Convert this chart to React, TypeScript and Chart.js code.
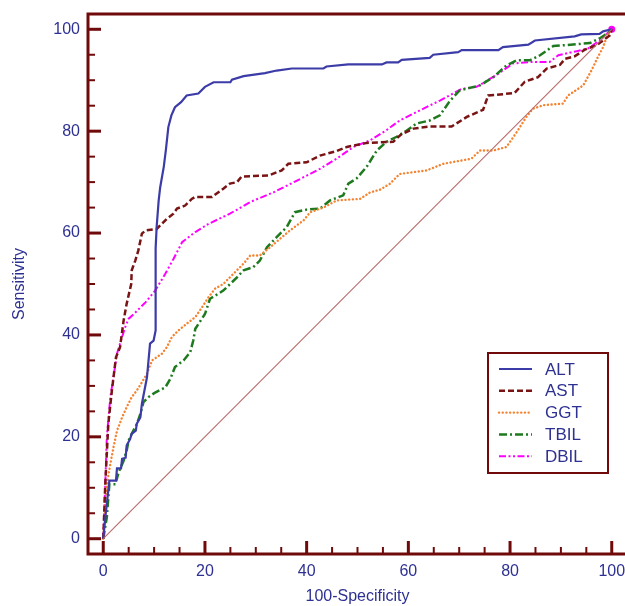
import React, { useEffect, useRef } from 'react';
import { Chart, registerables } from 'chart.js';

Chart.register(...registerables);

const seriesNames = ['ALT', 'AST', 'GGT', 'TBIL', 'DBIL'];

const altX = [0, 0.5, 1.2, 2.5, 2.7, 3.5, 3.7, 4.4, 4.6, 5.3, 5.6, 6.4, 6.6, 7.3, 7.6, 8.1, 8.6, 9.2, 9.9, 10.3, 10.3, 10.5, 10.9, 11.2, 11.9, 12.3, 12.8, 13.4, 14.1, 15.3, 16.4, 18.7, 20, 21.7, 25, 25.3, 27.6, 31.8, 34.1, 37.1, 43.3, 43.9, 48.2, 54.8, 55.7, 58, 58.7, 64.2, 64.9, 69.8, 70.5, 77.7, 78.6, 83.6, 84.9, 92.7, 94, 97.6, 98.3, 100];
const altY = [0, 5, 11.4, 11.4, 13.8, 13.8, 15.7, 15.9, 18.3, 19.6, 20.6, 21.2, 22.6, 23.8, 26.5, 29.1, 31.7, 38.3, 38.9, 40.9, 57, 61.2, 66.4, 69, 73, 76.2, 80.8, 83.1, 84.7, 85.7, 87, 87.4, 88.7, 89.6, 89.6, 90.1, 90.8, 91.4, 91.9, 92.3, 92.3, 92.7, 93.1, 93.1, 93.5, 93.5, 94, 94.4, 95, 95.5, 95.9, 95.9, 96.5, 97, 97.8, 98.6, 99, 99.1, 99.6, 100];

const astX = [0, 0.4, 1, 1.7, 2.5, 3.3, 4, 4.6, 5.5, 5.6, 6.3, 6.9, 7.6, 8.3, 10.5, 11.5, 12.5, 13.8, 14.5, 16.1, 17.4, 18.1, 21.4, 23.6, 24.9, 26.3, 27.2, 32.5, 35.1, 36.4, 40, 42.6, 45.9, 47.9, 51.8, 57, 58.5, 61, 64.2, 68.5, 71.5, 74.7, 75.7, 78, 80.9, 82.9, 85.5, 87.2, 89.8, 90.8, 92.7, 94.7, 97, 98.3, 99.6, 100];
const astY = [0, 10.8, 22.6, 29.1, 35.6, 37.6, 42.8, 46.1, 50, 52.7, 54.6, 56.6, 59.9, 60.5, 60.8, 61.8, 62.8, 63.8, 64.8, 65.4, 66.7, 67.1, 67.1, 68.7, 69.7, 70, 71.1, 71.3, 72.3, 73.6, 73.9, 75.2, 76.1, 76.9, 77.7, 77.9, 79.3, 80.5, 80.9, 80.9, 82.8, 84.2, 87, 87.2, 87.5, 89.7, 90.6, 92.3, 93, 94.2, 94.7, 96, 96.9, 97.8, 98.8, 100];

const ggtX = [0, 0.7, 1.4, 2, 2.7, 3.7, 4.6, 5.6, 6.6, 7.6, 8.6, 9.6, 11.5, 12.5, 13.5, 14.8, 16.4, 18.1, 19.4, 20.7, 22, 23.6, 25.6, 27.6, 28.9, 30.8, 32.8, 34.8, 36.7, 39.4, 40.7, 43.3, 45.9, 50.5, 52.5, 54.4, 56.4, 58.3, 63.6, 66.9, 72.4, 74.1, 76.7, 79.3, 81.3, 83.2, 84.5, 86.5, 90.4, 91.4, 94.4, 96, 97.3, 98.3, 98.9, 100];
const ggtY = [0, 10.7, 14.7, 17.9, 21.2, 23.8, 25.8, 27.8, 29.1, 30.7, 32.4, 35, 36.3, 37.6, 39.6, 40.9, 42.2, 43.5, 45.4, 47.4, 49.1, 50, 52, 54, 55.6, 55.6, 57.2, 58.9, 60.5, 62.5, 64.1, 65, 66.4, 66.7, 68, 68.5, 69.7, 71.6, 72.3, 73.6, 74.6, 76.2, 76.2, 76.9, 79.8, 82.8, 84.4, 85.1, 85.4, 87, 89, 91.9, 94.6, 96.5, 98.2, 100];

const tbilX = [0, 0.7, 1.2, 2.4, 3, 4, 4.6, 5, 5.6, 6.6, 7.3, 7.9, 8.9, 10.2, 12.2, 13.2, 14.1, 15.8, 17.1, 17.7, 18.1, 20, 21, 23.6, 26.3, 27.6, 29.5, 30.8, 32.2, 34.1, 36.1, 37.7, 40, 42.6, 44.6, 47.2, 48.2, 49.8, 51.8, 53.8, 55.7, 57.7, 59.5, 61.6, 64.2, 66.2, 68.2, 70.1, 74.1, 76.7, 79.3, 81.3, 83.9, 85.9, 88.5, 92.4, 95.7, 97.6, 99.6, 100];
const tbilY = [0, 4.2, 10.7, 10.7, 13, 15.3, 17.3, 19.3, 20.6, 22.5, 24.5, 26.8, 27.8, 28.7, 29.7, 31.4, 33.7, 35, 36.6, 38.9, 41.2, 44.1, 47.1, 48.7, 51.3, 52.7, 53.3, 54.6, 57.2, 59.2, 61.2, 64.1, 64.6, 64.8, 66.4, 67.4, 69.7, 70.7, 73, 76.2, 77.9, 78.9, 80, 81.5, 82.1, 83.1, 86, 88, 89, 90.6, 92.9, 93.9, 93.9, 94.9, 96.7, 97, 97.3, 98.2, 99.5, 100];

const dbilX = [0, 0.4, 0.7, 1.4, 2, 2.7, 3.3, 4.3, 5, 6, 8.3, 10.2, 12.2, 13.8, 15.5, 18.1, 20.7, 24.9, 28.9, 33.5, 38.1, 42.6, 45.9, 49.2, 52.5, 55.7, 58.3, 62.3, 66.2, 70.5, 73.4, 77.3, 80.6, 84.5, 87.8, 89.5, 93.1, 95.3, 97.6, 100];
const dbilY = [0, 10.8, 19.9, 27.8, 31.7, 36.3, 38.3, 41.5, 43.2, 44.1, 46.4, 48.7, 52, 54.9, 58.2, 60.2, 61.8, 63.8, 66.1, 68, 70.3, 72.6, 74.6, 76.9, 78.2, 80.2, 82.1, 84.1, 86, 88.3, 88.7, 91, 93.3, 93.6, 93.6, 94.9, 95.7, 96.2, 97.8, 100];

const diagX = [0, 100];
const diagY = [0, 100];

const tickValues = [0, 5, 10, 15, 20, 25, 30, 35, 40, 45, 50, 55, 60, 65, 70, 75, 80, 85, 90, 95, 100];

const AXIS = '#700a0a';
const TEXT = '#2e3192';
const FONT = "'Liberation Sans', Arial, sans-serif";

const pts = (xs: number[], ys: number[]) => xs.map((x, i) => ({ x, y: ys[i] }));

const styles = [
  { color: '#3c3ca8', width: 2.2, dash: [] as number[], cap: 'butt' },
  { color: '#7a1414', width: 2.5, dash: [6, 3], cap: 'butt' },
  { color: '#f5822e', width: 2.4, dash: [0.1, 3.6], cap: 'round' },
  { color: '#1e7a1e', width: 2.5, dash: [8, 3, 2, 3], cap: 'butt' },
  { color: '#ff00ff', width: 2, dash: [7, 2.5, 2, 2.5, 2, 2.5], cap: 'butt' },
];

const framePlugin = {
  id: 'frameTicks',
  afterDraw(chart: any) {
    const { ctx, chartArea: a, scales, width } = chart;
    ctx.save();
    ctx.strokeStyle = AXIS;
    ctx.fillStyle = AXIS;
    tickValues.forEach((v) => {
      const major = v % 20 === 0;
      const len = major ? 13 : 7;
      ctx.lineWidth = major ? 3 : 2;
      const px = scales.x.getPixelForValue(v);
      ctx.beginPath();
      ctx.moveTo(px, a.bottom);
      ctx.lineTo(px, a.bottom - len);
      ctx.stroke();
      const py = scales.y.getPixelForValue(v);
      ctx.beginPath();
      ctx.moveTo(a.left, py);
      ctx.lineTo(a.left + len, py);
      ctx.stroke();
    });
    ctx.lineWidth = 3;
    ctx.beginPath();
    ctx.moveTo(width, a.top);
    ctx.lineTo(a.left, a.top);
    ctx.lineTo(a.left, a.bottom);
    ctx.lineTo(width, a.bottom);
    ctx.stroke();

    const bw = 120, bh = 120;
    const bx = a.right - 19 - bw;
    const by = a.bottom - 81 - bh;
    ctx.fillStyle = '#ffffff';
    ctx.fillRect(bx, by, bw, bh);
    ctx.lineWidth = 2;
    ctx.strokeStyle = AXIS;
    ctx.strokeRect(bx, by, bw, bh);
    ctx.font = `17px ${FONT}`;
    ctx.textBaseline = 'middle';
    ctx.textAlign = 'left';
    seriesNames.forEach((name, i) => {
      const s = styles[i];
      const y = by + 16 + i * 21.8;
      ctx.save();
      ctx.strokeStyle = s.color;
      ctx.lineWidth = s.width;
      ctx.setLineDash(s.dash);
      ctx.lineCap = s.cap;
      ctx.beginPath();
      ctx.moveTo(bx + 11, y);
      ctx.lineTo(bx + 44, y);
      ctx.stroke();
      ctx.restore();
      ctx.fillStyle = TEXT;
      ctx.fillText(name, bx + 57, y + 1);
    });
    ctx.restore();
  },
};

export default function App() {
  const ref = useRef<HTMLCanvasElement>(null);
  useEffect(() => {
    if (!ref.current) return;
    const seriesX = [altX, astX, ggtX, tbilX, dbilX];
    const seriesY = [altY, astY, ggtY, tbilY, dbilY];
    const datasets: any[] = [
      {
        label: 'diag',
        data: pts(diagX, diagY),
        borderColor: '#b86a6a',
        borderWidth: 1.1,
        pointRadius: 0,
        showLine: true,
      },
    ];
    seriesNames.forEach((name, i) => {
      const s = styles[i];
      datasets.push({
        label: name,
        data: pts(seriesX[i], seriesY[i]),
        borderColor: s.color,
        backgroundColor: s.color,
        borderWidth: s.width,
        borderDash: s.dash,
        borderCapStyle: s.cap,
        pointRadius: name === 'DBIL' ? (c: any) => (c.dataIndex === seriesX[i].length - 1 ? 2.5 : 0) : 0,
        showLine: true,
        tension: 0,
      });
    });
    const setTicks = (scale: any) => {
      scale.ticks = tickValues.filter((v) => v % 20 === 0).map((v) => ({ value: v }));
    };
    const chart = new Chart(ref.current, {
      type: 'scatter',
      data: { datasets },
      options: {
        animation: false,
        responsive: false,
        devicePixelRatio: 1,
        layout: { autoPadding: false, padding: { top: 14, right: 13, left: 0, bottom: 0 } },
        plugins: { legend: { display: false }, tooltip: { enabled: false } },
        scales: {
          x: {
            type: 'linear',
            min: -3,
            max: 103,
            afterBuildTicks: setTicks,
            afterFit: (s: any) => { s.height = 52; },
            grid: { display: false },
            border: { display: false },
            ticks: { color: TEXT, font: { family: FONT, size: 16 }, padding: 0, maxRotation: 0 },
            title: { display: true, text: '100-Specificity', color: TEXT, font: { family: FONT, size: 16 }, padding: { top: 0, bottom: 0 } },
          },
          y: {
            type: 'linear',
            min: -3,
            max: 103,
            afterBuildTicks: setTicks,
            afterFit: (s: any) => { s.width = 88; },
            grid: { display: false },
            border: { display: false },
            ticks: { color: TEXT, font: { family: FONT, size: 16 }, padding: 0 },
            title: { display: true, text: 'Sensitivity', color: TEXT, font: { family: FONT, size: 16 }, padding: { top: 10, bottom: 0 } },
          },
        },
      },
      plugins: [framePlugin],
    } as any);
    return () => chart.destroy();
  }, []);
  return (
    <div style={{ position: 'fixed', left: 0, top: 0, width: 625, height: 606, overflow: 'hidden', background: '#fff' }}>
      <canvas ref={ref} width={640} height={606} style={{ display: 'block', width: 640, height: 606 }} />
    </div>
  );
}
